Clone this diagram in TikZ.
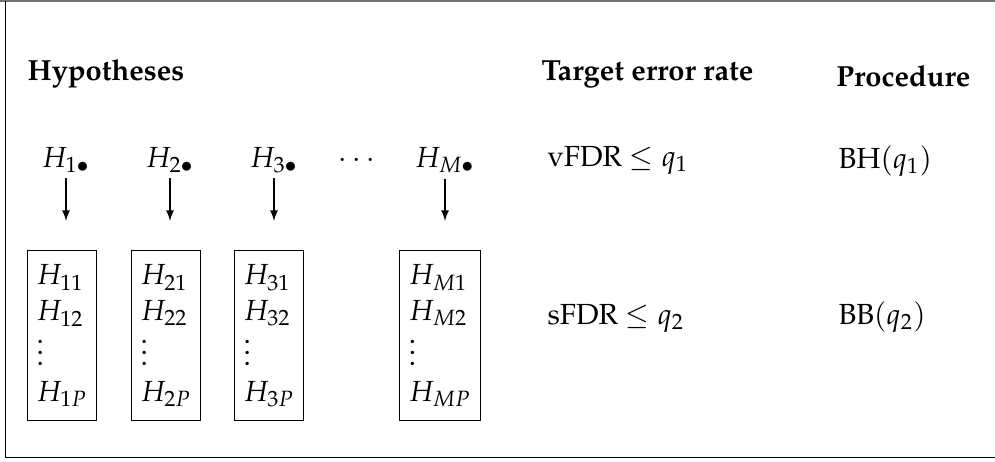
\documentclass[tikz,border=0pt]{standalone}
\usepackage[T1]{fontenc}
\usepackage{mathpazo}
\tikzset{
  lbl/.style={anchor=base west, inner sep=0pt},
  hyp/.style={anchor=base, inner sep=1pt},
  grp/.style={draw, anchor=north, inner sep=3.4pt},
}
\newcommand{\hgroup}[1]{$\begin{array}{@{}l@{}} H_{#11}\\ H_{#12}\\[-2.6pt] \vdots\\ H_{#1P}\end{array}$}
\begin{document}
\begin{tikzpicture}[x=0.378pt, y=-0.378pt, font=\fontsize{11}{13.6}\selectfont, >=latex]
\useasboundingbox (0,0) rectangle (995,461);
% frame
\draw[black!55, line width=0.6pt] (0,1) -- (995,1);
\draw[line width=0.5pt] (5.5,1) -- (5.5,457.5) -- (995,457.5);

% headings
\node[lbl] (hyps) at (27,81) {\textbf{Hypotheses}};
\node[lbl] (rate) at (541,81) {\textbf{Target error rate}};
\node[lbl, anchor=base east] (proc) at (971,86) {\textbf{Procedure}};

% top level hypotheses
\node[hyp] (h1) at (66,167) {$H_{1\bullet}$};
\node[hyp] (h2) at (170,167) {$H_{2\bullet}$};
\node[hyp] (h3) at (274,167) {$H_{3\bullet}$};
\node[hyp] (dots) at (357,167) {$\cdots$};
\node[hyp] (hM) at (445,167) {$H_{M\bullet}$};

% groups
\node[grp] (b1) at (62,250) {\hgroup{1}};
\node[grp] (b2) at (166,250) {\hgroup{2}};
\node[grp] (b3) at (269,250) {\hgroup{3}};
\node[grp] (bM) at (440,250) {\hgroup{M}};

\foreach \h/\b in {h1/b1, h2/b2, h3/b3, hM/bM}
  \draw [->, shorten <=1pt, shorten >=11pt] (\h.south) -- (\h.south |- \b.north);

% error rates and procedures
\node[lbl] (vfdr) at (547,166) {vFDR $\leq q_1$};
\node[lbl] (bh) at (838,168) {BH$(q_1)$};
\node[lbl] (sfdr) at (547,324) {sFDR $\leq q_2$};
\node[lbl] (bb) at (838,324) {BB$(q_2)$};
\end{tikzpicture}
\end{document}
